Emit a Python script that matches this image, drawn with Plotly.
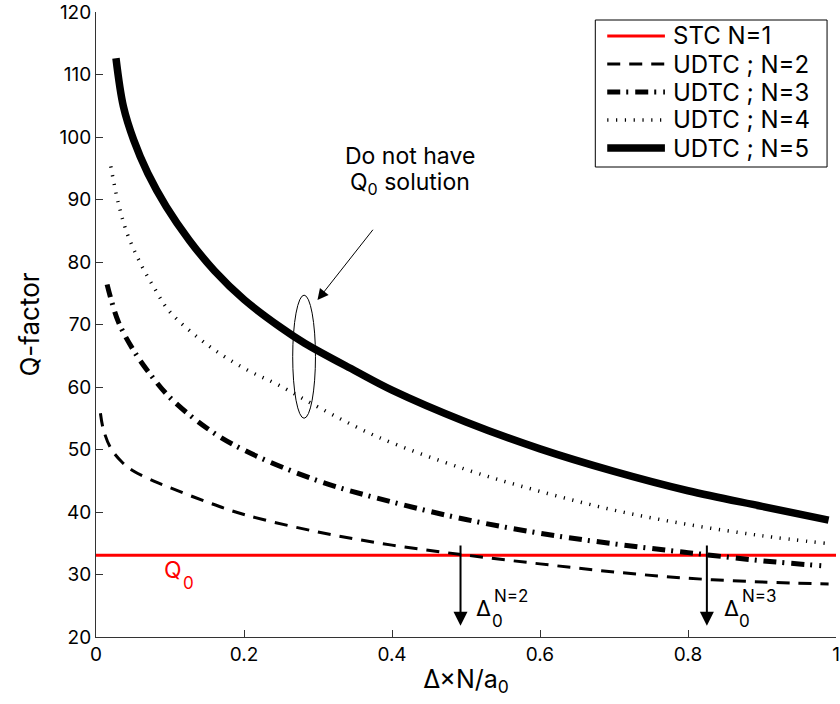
import plotly.graph_objects as go

# Normalised spacing Δ×N/a0 and Q-factor for each coupler
stc_x = [0.0, 1.0]
stc_q = [33.1, 33.1]

udtc2_x = [0.006, 0.01, 0.02, 0.035, 0.05, 0.079, 0.1, 0.15, 0.2, 0.3, 0.4, 0.5, 0.6, 0.7, 0.8, 0.9, 0.99]
udtc2_q = [55.8, 53.2, 50.2, 48.0, 46.6, 44.9, 43.9, 41.6, 39.6, 36.8, 34.7, 33.1, 31.7, 30.4, 29.4, 28.8, 28.5]

udtc3_x = [0.015, 0.03, 0.05, 0.071, 0.1, 0.15, 0.2, 0.3, 0.4, 0.5, 0.6, 0.7, 0.8, 0.9, 0.98]
udtc3_q = [76.4, 70.5, 66.0, 62.4, 58.3, 53.4, 49.9, 45.0, 41.6, 38.8, 36.6, 34.9, 33.5, 32.2, 31.4]

udtc4_x = [0.02, 0.03, 0.042, 0.06, 0.08, 0.1, 0.15, 0.2, 0.247, 0.3, 0.381, 0.5, 0.6, 0.7, 0.8, 0.9, 0.985]
udtc4_q = [95.3, 89.5, 84.6, 79.8, 75.6, 72.0, 66.8, 63.0, 60.3, 56.8, 52.0, 46.8, 43.3, 40.3, 38.0, 36.2, 35.0]

udtc5_x = [0.027, 0.037, 0.051, 0.070, 0.095, 0.126, 0.16, 0.2, 0.25, 0.282, 0.35, 0.4, 0.5, 0.6, 0.7, 0.8, 0.9, 0.99]
udtc5_q = [112.6, 104.9, 99.5, 94.2, 88.85, 83.5, 78.6, 74.0, 69.5, 67.0, 62.6, 59.5, 54.4, 50.1, 46.5, 43.4, 40.9, 38.7]

series_names = ["STC N=1", "UDTC ; N=2", "UDTC ; N=3", "UDTC ; N=4", "UDTC ; N=5"]

# Spacings where the N=2 and N=3 curves meet Q0
delta0_n2 = 0.4926
delta0_n3 = 0.8255

FONT = "Inter, Liberation Sans, Arial, sans-serif"

styles = [
    dict(color="#ff0000", width=3),
    dict(color="black", width=3, dash="13px,9px"),
    dict(color="black", width=5, dash="13px,6px,2px,7px"),
    dict(color="black", width=3.5, dash="1.2px,7.6px"),
    dict(color="black", width=7.5),
]
xs = [stc_x, udtc2_x, udtc3_x, udtc4_x, udtc5_x]
qs = [stc_q, udtc2_q, udtc3_q, udtc4_q, udtc5_q]

fig = go.Figure()
for name, x, q, st in zip(series_names, xs, qs, styles):
    line = dict(st)
    if len(x) > 2:
        line["shape"] = "spline"
    fig.add_trace(go.Scatter(x=x, y=q, mode="lines", name=name, line=line, showlegend=False))

shapes = []
# Ellipse around the N=5 curve
shapes.append(dict(type="circle", xref="x", yref="y", x0=0.2658, x1=0.2966, y0=55.0, y1=74.7,
                   line=dict(color="black", width=1)))

ann = []
ann.append(dict(x=0.2993, y=73.9, ax=0.3758, ay=85.4, xref="x", yref="y", axref="x", ayref="y",
                text="", showarrow=True, arrowhead=2, arrowsize=2.2, arrowwidth=1, arrowcolor="black"))
ann.append(dict(x=0.424, y=97.0, xref="x", yref="y", text="Do not have", showarrow=False,
                font=dict(size=23, color="black")))
ann.append(dict(x=0.424, y=92.6, xref="x", yref="y", text="Q<sub>0</sub> solution", showarrow=False,
                font=dict(size=23, color="black")))

# Q0 label
ann.append(dict(x=0.1034, y=30.7, xref="x", yref="y", text="Q", showarrow=False,
                font=dict(size=23, color="#ff0000")))
ann.append(dict(x=0.1255, y=28.7, xref="x", yref="y", text="0", showarrow=False,
                font=dict(size=17, color="#ff0000")))

# Δ0 arrows and labels
for xd, n, dx in [(delta0_n2, 2, 0.0), (delta0_n3, 3, 0.335)]:
    ann.append(dict(x=xd, y=21.8, ax=xd, ay=34.9, xref="x", yref="y", axref="x", ayref="y",
                    text="", showarrow=True, arrowhead=2, arrowsize=1.4, arrowwidth=2, arrowcolor="black"))
    ann.append(dict(x=0.5235 + dx, y=24.7, xref="x", yref="y", text="Δ", showarrow=False,
                    font=dict(size=22, color="black")))
    ann.append(dict(x=0.542 + dx, y=22.6, xref="x", yref="y", text="0", showarrow=False,
                    font=dict(size=17, color="black")))
    ann.append(dict(x=0.561 + dx, y=26.5, xref="x", yref="y", text=f"N={n}", showarrow=False,
                    font=dict(size=17, color="black")))

# Legend box drawn in paper coordinates
W, H, L, B = 840, 704, 96, 67
T = 12
pw, ph = W - L, H - T - B


def px_x(p):
    return (p - L) / pw


def px_y(p):
    return (H - B - p) / ph


shapes.append(dict(type="rect", xref="paper", yref="paper",
                   x0=px_x(598), x1=px_x(831), y0=px_y(167), y1=px_y(20),
                   fillcolor="white", line=dict(color="black", width=1), layer="above"))
for i, (name, st) in enumerate(zip(series_names, styles)):
    yc = px_y(36 + 28 * i)
    shapes.append(dict(type="line", xref="paper", yref="paper",
                       x0=px_x(610), x1=px_x(668), y0=yc, y1=yc,
                       line=dict(st), layer="above"))
    ann.append(dict(x=px_x(674), y=yc, xref="paper", yref="paper", text=name,
                    xanchor="left", yanchor="middle", showarrow=False,
                    font=dict(size=24, color="black")))

fig.update_layout(
    width=W, height=H,
    margin=dict(l=L, r=0, t=T, b=B),
    plot_bgcolor="white", paper_bgcolor="white",
    font=dict(family=FONT, color="black"),
    annotations=ann, shapes=shapes,
    showlegend=False,
    xaxis=dict(range=[0, 1], tickvals=[0, 0.2, 0.4, 0.6, 0.8, 1], ticks="inside", ticklen=7,
               tickcolor="#333", showline=True, linecolor="#333", linewidth=1,
               showgrid=False, zeroline=False, tickfont=dict(size=19),
               ticklabeloverflow="allow",
               title=dict(text="Δ×N/a<sub>0</sub>", font=dict(size=25), standoff=5)),
    yaxis=dict(range=[20, 120], dtick=10, ticks="inside", ticklen=7,
               tickcolor="#333", showline=True, linecolor="#333", linewidth=1,
               showgrid=False, zeroline=False, tickfont=dict(size=19),
               title=dict(text="Q-factor", font=dict(size=26), standoff=12)),
)

fig.write_html("out.html")
